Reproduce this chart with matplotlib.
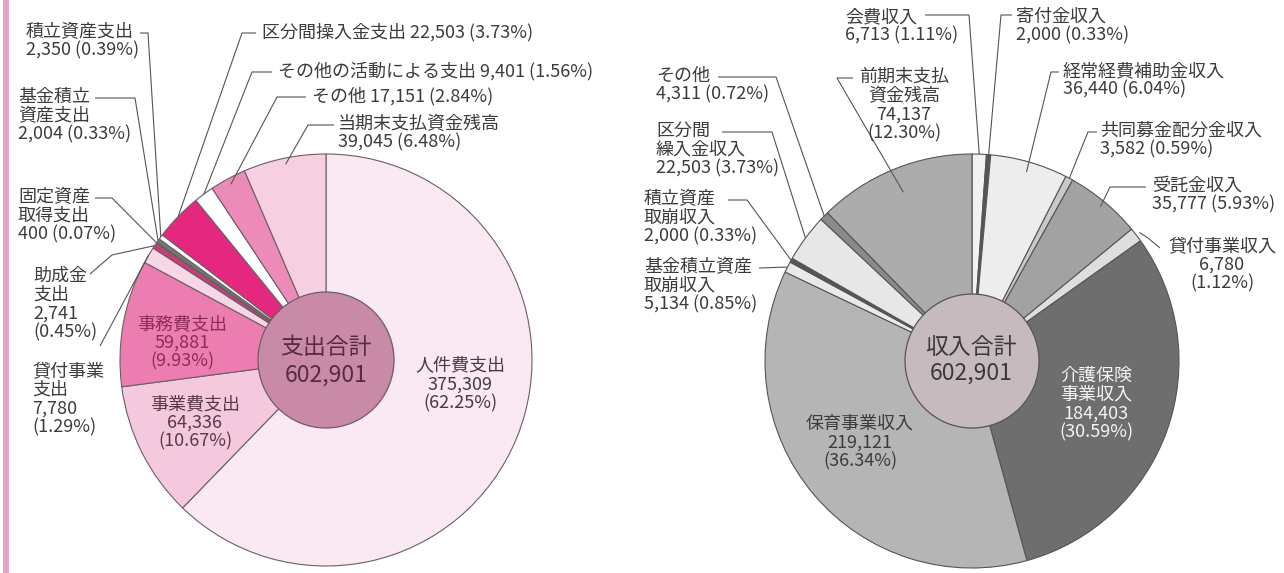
import matplotlib
matplotlib.use("Agg")
import numpy as np
import matplotlib.pyplot as plt

plt.rcParams['font.family'] = ['Noto Sans CJK JP', 'DejaVu Sans']

# data: 支出 (left)
exp_names = ["人件費支出", "事業費支出", "事務費支出", "貸付事業支出", "助成金支出",
             "固定資産取得支出", "基金積立資産支出", "積立資産支出", "区分間操入金支出",
             "その他の活動による支出", "その他", "当期末支払資金残高"]
exp_values = [375309, 64336, 59881, 7780, 2741, 400, 2004, 2350, 22503, 9401, 17151, 39045]
exp_pcts = [62.25, 10.67, 9.93, 1.29, 0.45, 0.07, 0.33, 0.39, 3.73, 1.56, 2.84, 6.48]

# data: 収入 (right)
inc_names = ["会費収入", "寄付金収入", "経常経費補助金収入", "共同募金配分金収入", "受託金収入",
             "貸付事業収入", "介護保険事業収入", "保育事業収入", "基金積立資産取崩収入",
             "積立資産取崩収入", "区分間繰入金収入", "その他", "前期末支払資金残高"]
inc_values = [6713, 2000, 36440, 3582, 35777, 6780, 184403, 219121, 5134, 2000, 22503, 4311, 74137]
inc_pcts = [1.11, 0.33, 6.04, 0.59, 5.93, 1.12, 30.59, 36.34, 0.85, 0.33, 3.73, 0.72, 12.30]

exp_colors = ["#fae8f2", "#f5c9dd", "#ec7db0", "#f7d6e6", "#c83c78", "#f3eef0",
              "#6f7b72", "#ffffff", "#e4287f", "#ffffff", "#ec8bb8", "#f6cfe1"]
inc_colors = ["#f2f2f2", "#555555", "#ededed", "#c9c9c9", "#a2a2a2", "#dedede",
              "#6e6e6e", "#b5b5b5", "#e9e9e9", "#555555", "#e7e7e7", "#8a8a8a", "#acacac"]

FS = 13
TXT = "#3c3c3c"
LINE = "#555555"

# label layout: idx -> (text, x, y, ha, leader points in pixels, anchor radius factor)
def lab(names, values, pcts, i, wrap=None, sep1="\n", sep2=" "):
    name = wrap if wrap else names[i]
    return f"{name}{sep1}{values[i]:,}{sep2}({pcts[i]:.2f}%)"


def draw_pie(ax, values, colors, center, radius, inner_r, inner_col, edge):
    wedges, _ = ax.pie(values, colors=colors, startangle=-90, counterclock=True,
                       center=center, radius=radius,
                       wedgeprops=dict(edgecolor=edge, linewidth=0.8))
    ax.pie([1], colors=[inner_col], center=center, radius=inner_r,
           wedgeprops=dict(edgecolor=edge, linewidth=0.9))
    return wedges


def anchor(w, f):
    mid = np.deg2rad((w.theta1 + w.theta2) / 2)
    cx, cy = w.center
    return cx + w.r * f * np.cos(mid), cy + w.r * f * np.sin(mid)


def leader(ax, w, pts, f):
    ax_, ay_ = anchor(w, f)
    xs = [p[0] for p in pts] + [ax_]
    ys = [p[1] for p in pts] + [ay_]
    ax.plot(xs, ys, color=LINE, lw=0.8, solid_capstyle="butt")


fig = plt.figure(figsize=(12.84, 5.73), dpi=100)
ax = fig.add_axes([0, 0, 1, 1])

# left pie
lw_ = draw_pie(ax, exp_values, exp_colors, (326, 360), 206, 68, "#c98aa8", "#6b5f66")
# right pie
rw_ = draw_pie(ax, inc_values, inc_colors, (972, 361), 207, 67, "#c6babf", "#555555")

ax.set_xlim(0, 1284)
ax.set_ylim(573, 0)
ax.set_aspect("equal")
ax.axis("off")

# pink border at left
ax.axvspan(3, 9, color="#e6a3c3", lw=0)

# ---- left chart labels
E = lambda i, **k: lab(exp_names, exp_values, exp_pcts, i, **k)
left_out = [
    (7, E(7), 26, 33, "left", [(140, 33), (148, 33)], 1.0),
    (6, E(6, wrap="基金積立\n資産支出"), 18, 98, "left", [(95, 98), (135, 98)], 1.0),
    (5, E(5, wrap="固定資産\n取得支出"), 18, 198, "left", [(95, 198), (112, 198)], 1.0),
    (4, E(4, wrap="助成金\n支出", sep2="\n"), 33, 277, "left", [(90, 274), (112, 255)], 1.0),
    (3, E(3, wrap="貸付事業\n支出", sep2="\n"), 32, 372, "left", [(100, 346)], 1.0),
    (8, E(8, sep1=" "), 262, 33, "left", [(256, 33), (242, 33)], 1.0),
    (9, E(9, sep1=" "), 278, 72, "left", [(272, 72), (252, 72)], 1.0),
    (10, E(10, sep1=" "), 312, 97, "left", [(306, 97), (277, 97)], 0.97),
    (11, E(11), 338, 125, "left", [(334, 125), (308, 125)], 0.97),
]
for i, t, x, y, ha, pts, f in left_out:
    ax.text(x, y - 10, t, ha=ha, va="top", fontsize=FS, color=TXT, linespacing=1.05)
    leader(ax, lw_[i], pts, f)

left_in = [
    (0, 460, 367, "#4a3a42"),
    (1, 195, 405, "#5a3a48"),
    (2, 182, 325, "#8c2d5a"),
]
for i, x, y, c in left_in:
    ax.text(x, y - 10, E(i, sep2="\n"), ha="center", va="top", fontsize=FS,
            color=c, linespacing=1.05)

ax.text(326, 347, "支出合計", ha="center", va="center", fontsize=16.5, color="#5a2a40")
ax.text(326, 375, f"{sum(exp_values):,}", ha="center", va="center", fontsize=16.5,
        color="#5a2a40")

# ---- right chart labels
I = lambda i, **k: lab(inc_names, inc_values, inc_pcts, i, **k)
right_out = [
    (0, I(0), 845, 18, "left", [(925, 15), (969, 15)], 1.0),
    (1, I(1), 1016, 18, "left", [(1012, 15), (1001, 15)], 1.0),
    (2, I(2), 1063, 72, "left", [(1059, 72), (1051, 72)], 0.95),
    (3, I(3), 1100, 132, "left", [(1097, 132), (1088, 132)], 1.0),
    (4, I(4), 1152, 187, "left", [(1146, 187), (1110, 187)], 0.97),
    (5, I(5, sep2="\n"), 1222, 247, "center", [(1160, 248), (1148, 238)], 1.02),
    (8, I(8, wrap="基金積立資産\n取崩収入"), 644, 268, "left", [(759, 268)], 1.0),
    (9, I(9, wrap="積立資産\n取崩収入"), 644, 200, "left", [(728, 200), (747, 200)], 1.0),
    (10, I(10, wrap="区分間\n繰入金収入"), 656, 132, "left", [(722, 132), (772, 132)], 1.0),
    (11, I(11), 656, 77, "left", [(718, 77), (776, 77)], 1.0),
    (12, I(12, wrap="前期末支払\n資金残高", sep2="\n"), 904, 78, "center",
     [(853, 78), (837, 78)], 0.88),
]
for i, t, x, y, ha, pts, f in right_out:
    ax.text(x, y - 10, t, ha=ha, va="top", fontsize=FS, color=TXT, linespacing=1.05,
            multialignment="center" if ha == "center" else "left")
    leader(ax, rw_[i], pts, f)

right_in = [
    (6, "介護保険\n事業収入", 1096, 377, "#f4f4f4"),
    (7, None, 860, 425, "#3c3c3c"),
]
for i, wrap, x, y, c in right_in:
    ax.text(x, y - 10, I(i, wrap=wrap, sep2="\n"), ha="center", va="top", fontsize=FS,
            color=c, linespacing=1.05)

ax.text(971, 348, "収入合計", ha="center", va="center", fontsize=16.5, color="#3a3a3a")
ax.text(971, 373, f"{sum(inc_values):,}", ha="center", va="center", fontsize=16.5,
        color="#3a3a3a")

fig.savefig("out.png", dpi=100)
